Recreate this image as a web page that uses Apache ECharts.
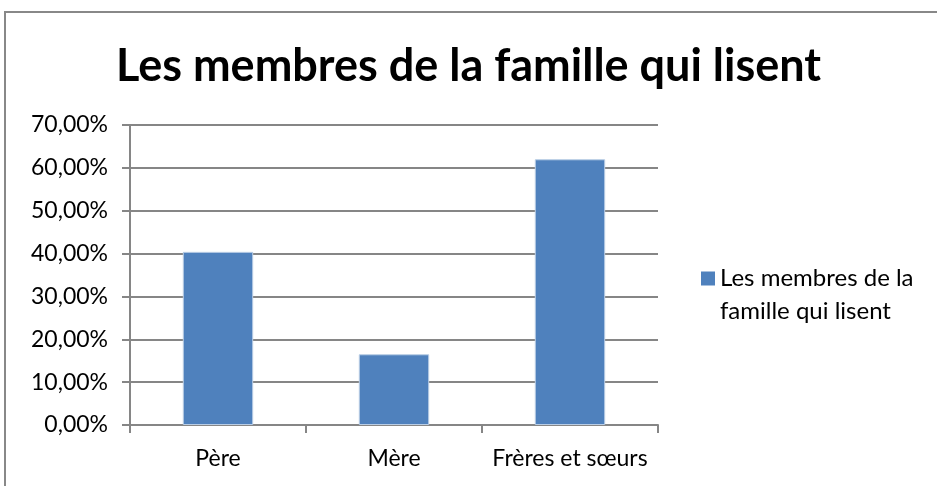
<!DOCTYPE html>
<html>
<head>
<meta charset="utf-8">
<script src="https://cdn.jsdelivr.net/npm/echarts@6/dist/echarts.min.js"></script>
<style>
  html, body { margin: 0; padding: 0; background: #fff; }
  #chart { width: 937px; height: 486px; }
</style>
</head>
<body>
<div id="chart"></div>
<script>
// données
const categories = ['Père', 'Mère', 'Frères et sœurs'];
const values = [40.4, 16.5, 62.0];
const seriesName = 'Les membres de la famille qui lisent';
const yTicks = [0, 10, 20, 30, 40, 50, 60, 70];

const font = 'Lato, "Open Sans", sans-serif';
const axisGray = '#868686';

const chart = echarts.init(document.getElementById('chart'));

chart.setOption({
  animation: false,
  textStyle: { fontFamily: font },
  title: {
    text: seriesName,
    left: 'center',
    top: 39,
    textStyle: { fontSize: 45, fontWeight: 'bold', color: '#000', fontFamily: font }
  },
  graphic: [{
    type: 'polyline',
    shape: { points: [[5, 486], [5, 12], [937, 12]] },
    style: { stroke: '#888', lineWidth: 2, fill: null }
  }],
  legend: {
    data: [seriesName],
    orient: 'vertical',
    left: 701,
    top: 229,
    padding: 0,
    icon: 'rect',
    itemWidth: 14,
    itemHeight: 14,
    itemStyle: { borderWidth: 0 },
    // ligne vide en tête pour aligner le carré sur la première ligne
    formatter: () => '\nLes membres de la\nfamille qui lisent',
    textStyle: { fontSize: 24, color: '#000', lineHeight: 33, fontFamily: font }
  },
  grid: { left: 130, right: 279, top: 125, bottom: 61, containLabel: false },
  xAxis: {
    type: 'category',
    data: categories,
    axisLine: { lineStyle: { color: axisGray, width: 2 } },
    axisTick: { show: true, length: 8, lineStyle: { color: axisGray, width: 2 } },
    axisLabel: { fontSize: 23, color: '#000', margin: 22, interval: 0, fontFamily: font }
  },
  yAxis: {
    type: 'value',
    min: yTicks[0],
    max: yTicks[yTicks.length - 1],
    interval: 10,
    axisLine: { show: true, lineStyle: { color: axisGray, width: 2 } },
    axisTick: { show: true, length: 8, lineStyle: { color: axisGray, width: 2 } },
    splitLine: { lineStyle: { color: axisGray, width: 2 } },
    axisLabel: {
      fontSize: 23,
      color: '#000',
      margin: 22,
      fontFamily: font,
      formatter: v => v.toFixed(2).replace('.', ',') + '%'
    }
  },
  series: [{
    name: seriesName,
    type: 'bar',
    data: values,
    barWidth: '40%',
    itemStyle: { color: '#4f81bd', borderColor: '#b9cde5', borderWidth: 1 }
  }]
});
</script>
</body>
</html>
